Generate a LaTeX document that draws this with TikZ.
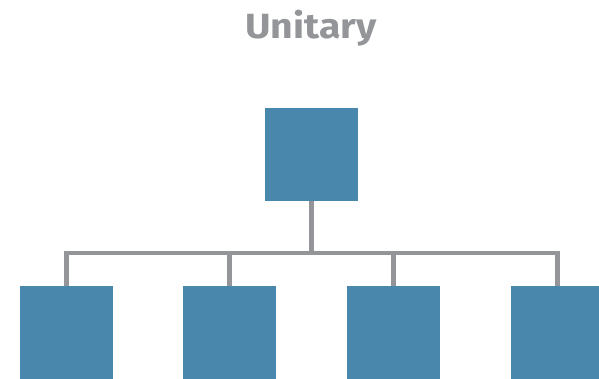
\documentclass[tikz,border=0pt]{standalone}
\usepackage{fontspec}
\setmainfont{Fira Sans}
\definecolor{boxblue}{HTML}{4A87AC}
\definecolor{linegray}{HTML}{939598}
\begin{document}
\begin{tikzpicture}[x=1pt,y=-1pt,
  unit/.style={fill=boxblue,draw=none,minimum size=93pt,inner sep=0pt},
  conn/.style={draw=linegray,line width=4.5pt,line join=miter}]
\useasboundingbox (0,0) rectangle (599,379);
\clip (0,0) rectangle (599,379);
% title
\node[anchor=base,text=linegray,font=\fontsize{35}{38}\selectfont\bfseries,inner sep=0pt] (title) at (311,39) {\scalebox{1.12}[1]{Unitary}};
% units
\node[unit] (top) at (311.5,154.5) {};
\node[unit] (b1) at (66.5,332.5) {};
\node[unit] (b2) at (229.5,332.5) {};
\node[unit] (b3) at (393.5,332.5) {};
\node[unit] (b4) at (557.5,332.5) {};
% connectors
\coordinate (bus) at (311.5,253);
\draw[conn] (top.south) -- (bus);
\draw[conn] (b1.north) |- (bus) -| (b4.north);
\draw[conn] (b2.north) -- (b2.north |- bus);
\draw[conn] (b3.north) -- (b3.north |- bus);
\end{tikzpicture}
\end{document}
